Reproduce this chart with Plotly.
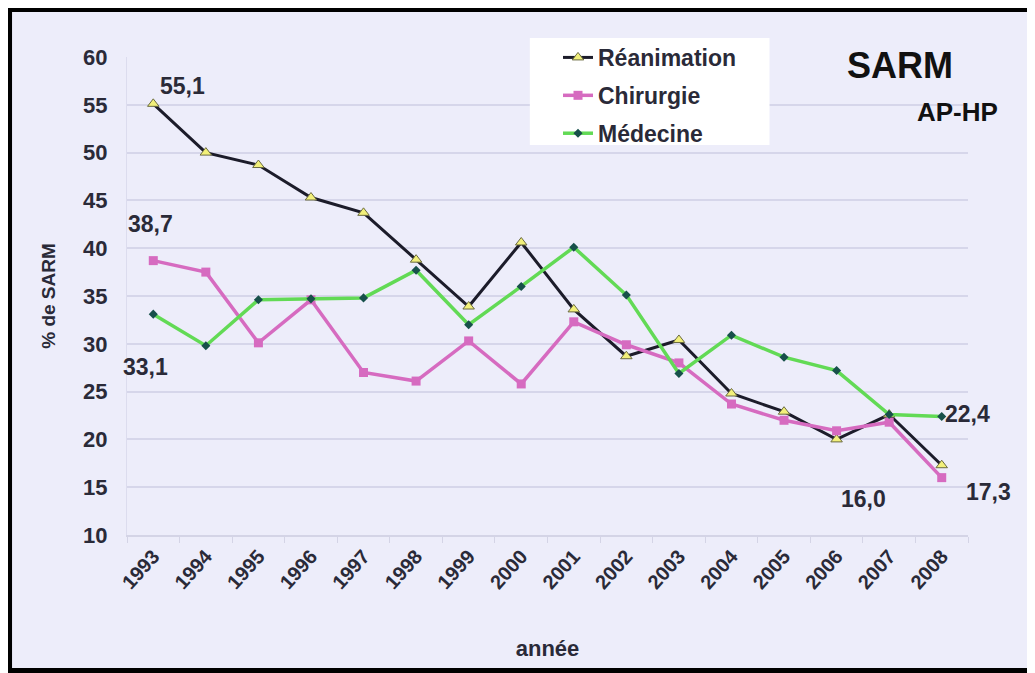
import plotly.graph_objects as go

# data
annees = [str(a) for a in range(1993, 2009)]
reanimation = [55.1, 50.0, 48.7, 45.3, 43.7, 38.8, 33.9, 40.6, 33.6, 28.7, 30.4, 24.8, 22.9, 20.0, 22.6, 17.3]
chirurgie = [38.7, 37.5, 30.1, 34.6, 27.0, 26.1, 30.3, 25.8, 32.3, 29.9, 28.0, 23.7, 22.0, 20.9, 21.8, 16.0]
medecine = [33.1, 29.8, 34.6, 34.7, 34.8, 37.7, 32.0, 36.0, 40.1, 35.1, 26.9, 30.9, 28.6, 27.2, 22.6, 22.4]
y_ticks = [10, 15, 20, 25, 30, 35, 40, 45, 50, 55, 60]

TXT = "#2a2a38"
FONT = "Liberation Sans, Arial, sans-serif"


def fr(v):
    return f"{v:.1f}".replace(".", ",")


fig = go.Figure()

fig.add_trace(go.Scatter(
    x=annees, y=reanimation, name="Réanimation", legendgroup="a",
    mode="lines+markers",
    line=dict(color="#1c1c2a", width=3),
    marker=dict(symbol="triangle-up", size=10, color="#f2f07a",
                line=dict(color="#6a6a40", width=1)),
))
fig.add_trace(go.Scatter(
    x=annees, y=chirurgie, name="Chirurgie", legendgroup="b",
    mode="lines+markers",
    line=dict(color="#d66bc0", width=3.5),
    marker=dict(symbol="square", size=9, color="#d66bc0"),
))
fig.add_trace(go.Scatter(
    x=annees, y=medecine, name="Médecine", legendgroup="c",
    mode="lines+markers",
    line=dict(color="#62da55", width=3.5),
    marker=dict(symbol="diamond", size=7, color="#17504a"),
))

# value labels (x given as category index)
lab_font = dict(family=FONT, size=23, color=TXT, weight="bold")
last = len(annees) - 1
labels = [
    (0, reanimation[0], 29, 18),
    (0, chirurgie[0], -3, 37),
    (0, medecine[0], -8, -53),
    (last, medecine[last], 26, 2),
    (last, reanimation[last], 47, -27),
    (last, chirurgie[last], -78, -21),
]
for x, y, dx, dy in labels:
    fig.add_annotation(x=x, y=y, xref="x", yref="y", text=fr(y), showarrow=False,
                       xanchor="center", yanchor="middle",
                       xshift=dx, yshift=dy, font=lab_font)

fig.add_annotation(x=0.919, y=0.983, xref="paper", yref="paper", text="SARM",
                   xanchor="center", yanchor="middle", showarrow=False,
                   font=dict(family=FONT, size=36, color="#111111", weight="bold"))
fig.add_annotation(x=0.988, y=0.885, xref="paper", yref="paper", text="AP-HP",
                   xanchor="center", yanchor="middle", showarrow=False,
                   font=dict(family=FONT, size=26, color="#111111", weight="bold"))

# lavender panel inside the black frame
fig.add_shape(type="rect", xref="paper", yref="paper",
              x0=-0.1367, x1=1.0714, y0=-0.278, y1=1.094,
              fillcolor="#ededfa", line=dict(width=0), layer="below")
# white legend box
fig.add_shape(type="rect", xref="paper", yref="paper",
              x0=0.479, x1=0.764, y0=0.816, y1=1.04,
              fillcolor="#ffffff", line=dict(width=0), layer="above")

fig.update_layout(
    width=1035, height=673,
    margin=dict(l=119, r=75, t=49, b=146),
    paper_bgcolor="#000000",
    plot_bgcolor="rgba(0,0,0,0)",
    font=dict(family=FONT, color=TXT),
    legend=dict(
        x=0.5125, y=1.044, xanchor="left", yanchor="top",
        bgcolor="rgba(0,0,0,0)", borderwidth=0,
        font=dict(family=FONT, size=23, color=TXT, weight="bold"),
        tracegroupgap=5,
    ),
    xaxis=dict(
        type="category", range=[-0.5, 15.5],
        tickson="boundaries", ticks="outside", ticklen=6, tickcolor="#d4d4e6",
        tickangle=-48, showgrid=False,
        showline=True, linecolor="#d4d4e6", linewidth=1.5,
        tickfont=dict(family=FONT, size=20, color=TXT, weight="bold"),
        title=dict(text="année", font=dict(family=FONT, size=22, color=TXT, weight="bold"), standoff=48),
    ),
    yaxis=dict(
        range=[10, 60], tickvals=y_ticks, ticks="outside", ticklen=14,
        tickcolor="rgba(0,0,0,0)", showgrid=True,
        gridcolor="#d6d6ea", gridwidth=1.5, zeroline=False,
        showline=True, linecolor="#dcdcee", linewidth=1,
        tickfont=dict(family=FONT, size=22, color=TXT, weight="bold"),
        title=dict(text="% de SARM", font=dict(family=FONT, size=19, color=TXT, weight="bold"), standoff=22),
    ),
)

fig.write_html("out.html")
